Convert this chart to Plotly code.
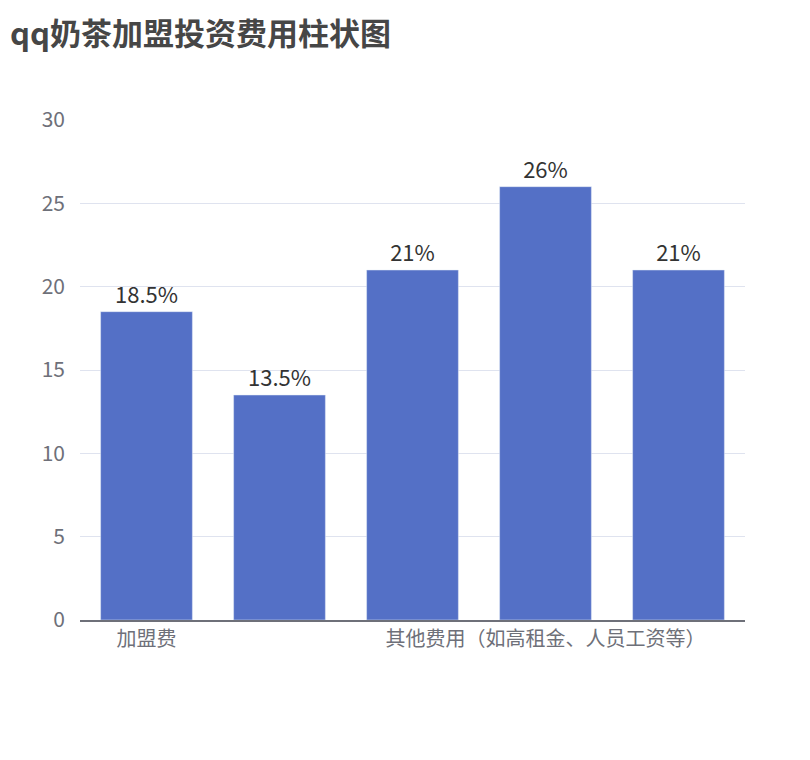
import plotly.graph_objects as go

# 类别名称（参考图中只显示了第1和第4个标签，其余因重叠被隐藏）
categories = ["加盟费", "装修费用", "设备费用", "其他费用（如高租金、人员工资等）", "原材料费用"]
values = [18.5, 13.5, 21, 26, 21]
labels = ["18.5%", "13.5%", "21%", "26%", "21%"]
shown_ticks = ["加盟费", "", "", "其他费用（如高租金、人员工资等）", ""]

fig = go.Figure(go.Bar(
    x=categories,
    y=values,
    text=labels,
    textposition="outside",
    textfont=dict(size=22, color="#333"),
    marker_color="#5470c6",
    width=0.69,
    cliponaxis=False,
))

fig.update_layout(
    width=810, height=760,
    margin=dict(l=72, r=73, t=112, b=148),
    plot_bgcolor="white", paper_bgcolor="white",
    font=dict(family="Noto Sans CJK SC, Noto Sans, sans-serif"),
    title=dict(text="<b>qq奶茶加盟投资费用柱状图</b>", x=0.0, xanchor="left",
               y=0.965, yanchor="middle", pad=dict(l=2),
               font=dict(size=31, color="#464646")),
    showlegend=False,
    bargap=0.31,
)
fig.update_xaxes(
    tickvals=categories, ticktext=shown_ticks,
    showline=True, linecolor="#6e7079", linewidth=1.5,
    tickfont=dict(size=20, color="#6e7079"), showgrid=False,
)
fig.update_yaxes(
    range=[0, 30], dtick=5, gridcolor="#dfe3ef", zeroline=False,
    tickfont=dict(size=21, color="#6e7079"), ticklabelstandoff=14,
)

fig.write_html("out.html")
